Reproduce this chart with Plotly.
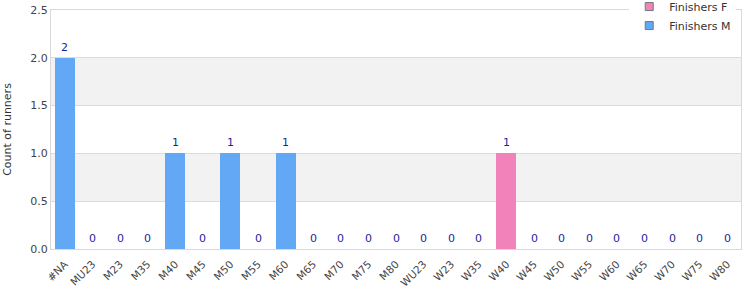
import plotly.graph_objects as go

categories = ["#NA", "MU23", "M23", "M35", "M40", "M45", "M50", "M55", "M60", "M65",
              "M70", "M75", "M80", "WU23", "W23", "W35", "W40", "W45", "W50", "W55",
              "W60", "W65", "W70", "W75", "W80"]
finishers_f = [0, 0, 0, 0, 0, 0, 0, 0, 0, 0, 0, 0, 0, 0, 0, 0, 1, 0, 0, 0, 0, 0, 0, 0, 0]
finishers_m = [2, 0, 0, 0, 1, 0, 1, 0, 1, 0, 0, 0, 0, 0, 0, 0, 0, 0, 0, 0, 0, 0, 0, 0, 0]
totals = [f + m for f, m in zip(finishers_f, finishers_m)]

FONT = "DejaVu Sans"
COL_F = "#f283ba"
COL_M = "#62a8f4"

fig = go.Figure()
fig.add_trace(go.Bar(x=categories, y=finishers_f, name="Finishers F", showlegend=False,
                     marker=dict(color=COL_F, line=dict(width=0))))
fig.add_trace(go.Bar(x=categories, y=finishers_m, name="Finishers M", showlegend=False,
                     marker=dict(color=COL_M, line=dict(width=0))))
# legend entries with small squared swatches
for name, col in [("Finishers F", COL_F), ("Finishers M", COL_M)]:
    fig.add_trace(go.Scatter(x=[None], y=[None], mode="markers", name=name,
                             marker=dict(symbol="square", size=8, color=col,
                                         line=dict(color="#777", width=1))))

annotations = [dict(x=c, y=t, text=str(t), showarrow=False, xref="x", yref="y",
                    yanchor="bottom", yshift=2,
                    font=dict(family=FONT, size=11, color="#1f1f99"))
               for c, t in zip(categories, totals)]

bands = [(0.5, 1.0), (1.5, 2.0)]
shapes = [dict(type="rect", xref="paper", yref="y", x0=0, x1=1, y0=a, y1=b,
               fillcolor="#f2f2f2", line=dict(width=0), layer="below") for a, b in bands]

fig.update_layout(
    width=750, height=300,
    margin=dict(l=51, r=9, t=10, b=51, autoexpand=False),
    barmode="stack", bargap=0.275,
    plot_bgcolor="white", paper_bgcolor="white",
    font=dict(family=FONT, size=11, color="#444"),
    shapes=shapes, annotations=annotations,
    legend=dict(x=0.838, y=1.075, xanchor="left", yanchor="top", bgcolor="white",
                font=dict(family=FONT, size=11, color="#333"), traceorder="normal",
                itemwidth=30, tracegroupgap=0),
    xaxis=dict(tickangle=-45, tickfont=dict(size=10.5, color="#444"), showline=True,
               linecolor="#d9d9d9", mirror=True, ticks="", showgrid=False,
               ticklabelstandoff=4),
    yaxis=dict(range=[0, 2.5], dtick=0.5, tickformat=".1f", showline=True, linecolor="#d9d9d9",
               mirror=True, gridcolor="#dcdcdc", zeroline=False,
               title=dict(text="Count of runners", font=dict(size=11, color="#333"), standoff=16),
               tickfont=dict(size=11, color="#444")),
)

fig.write_html("out.html")
